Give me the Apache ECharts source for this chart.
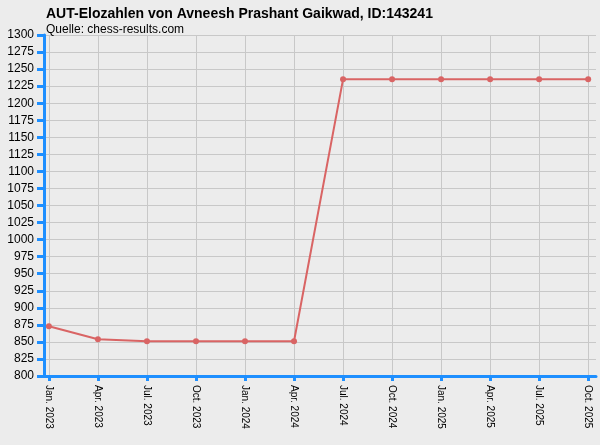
<!DOCTYPE html>
<html><head><meta charset="utf-8">
<script src="https://cdn.jsdelivr.net/npm/echarts@6/dist/echarts.min.js"></script>
<style>html,body{margin:0;padding:0;background:#ececec}#c{width:600px;height:445px}</style>
</head><body><div id="c"></div>
<script>
var categories = ["Jan. 2023","Apr. 2023","Jul. 2023","Oct. 2023","Jan. 2024","Apr. 2024","Jul. 2024","Oct. 2024","Jan. 2025","Apr. 2025","Jul. 2025","Oct. 2025"];
var elo = [873, 854, 851, 851, 851, 851, 1235, 1235, 1235, 1235, 1235, 1235];
var yTicks = [800,825,850,875,900,925,950,975,1000,1025,1050,1075,1100,1125,1150,1175,1200,1225,1250,1275,1300];
var idx = categories.map(function(_, i){ return i; });
var chart = echarts.init(document.getElementById('c'), null, {renderer:'canvas'});
var blue = '#1e8fff';
chart.setOption({
  backgroundColor:'#ececec',
  animation:false,
  title:{
    text:'AUT-Elozahlen von Avneesh Prashant Gaikwad, ID:143241',
    subtext:'Quelle: chess-results.com',
    left:41, top:2, itemGap:3,
    textStyle:{fontFamily:'Liberation Sans, Arial', fontSize:14, fontWeight:'bold', color:'#000'},
    subtextStyle:{fontFamily:'Liberation Sans, Arial', fontSize:12, color:'#000'}
  },
  grid:{left:44, right:4, top:35, bottom:69},
  xAxis:{
    type:'value', min:-0.1, max:11.16,
    axisLine:{show:true, onZero:false, lineStyle:{color:blue, width:3}},
    axisTick:{show:true, length:5, lineStyle:{color:blue, width:3}, customValues:idx},
    axisLabel:{rotate:-90, fontSize:10, color:'#000', fontFamily:'Liberation Sans, Arial', margin:9,
      customValues:idx,
      formatter:function(v){ return categories[Math.round(v)] || ''; }},
    splitLine:{show:true, lineStyle:{color:'#c8c8c8', width:1}},
    splitArea:{show:false}
  },
  yAxis:{
    type:'value', min:800, max:1300, interval:25,
    axisLine:{show:true, onZero:false, lineStyle:{color:blue, width:3}},
    axisTick:{show:true, length:7, lineStyle:{color:blue, width:3}},
    axisLabel:{fontSize:12, color:'#000', fontFamily:'Liberation Sans, Arial', margin:10,
      formatter:function(v){ return String(v); }},
    splitLine:{show:true, lineStyle:{color:'#c8c8c8', width:1}}
  },
  series:[{
    type:'line',
    data: elo.map(function(v,i){ return [idx[i], v]; }),
    lineStyle:{color:'#d96464', width:2},
    itemStyle:{color:'#d96464'},
    symbol:'circle', symbolSize:6,
    showAllSymbol:true
  }]
});
</script></body></html>
